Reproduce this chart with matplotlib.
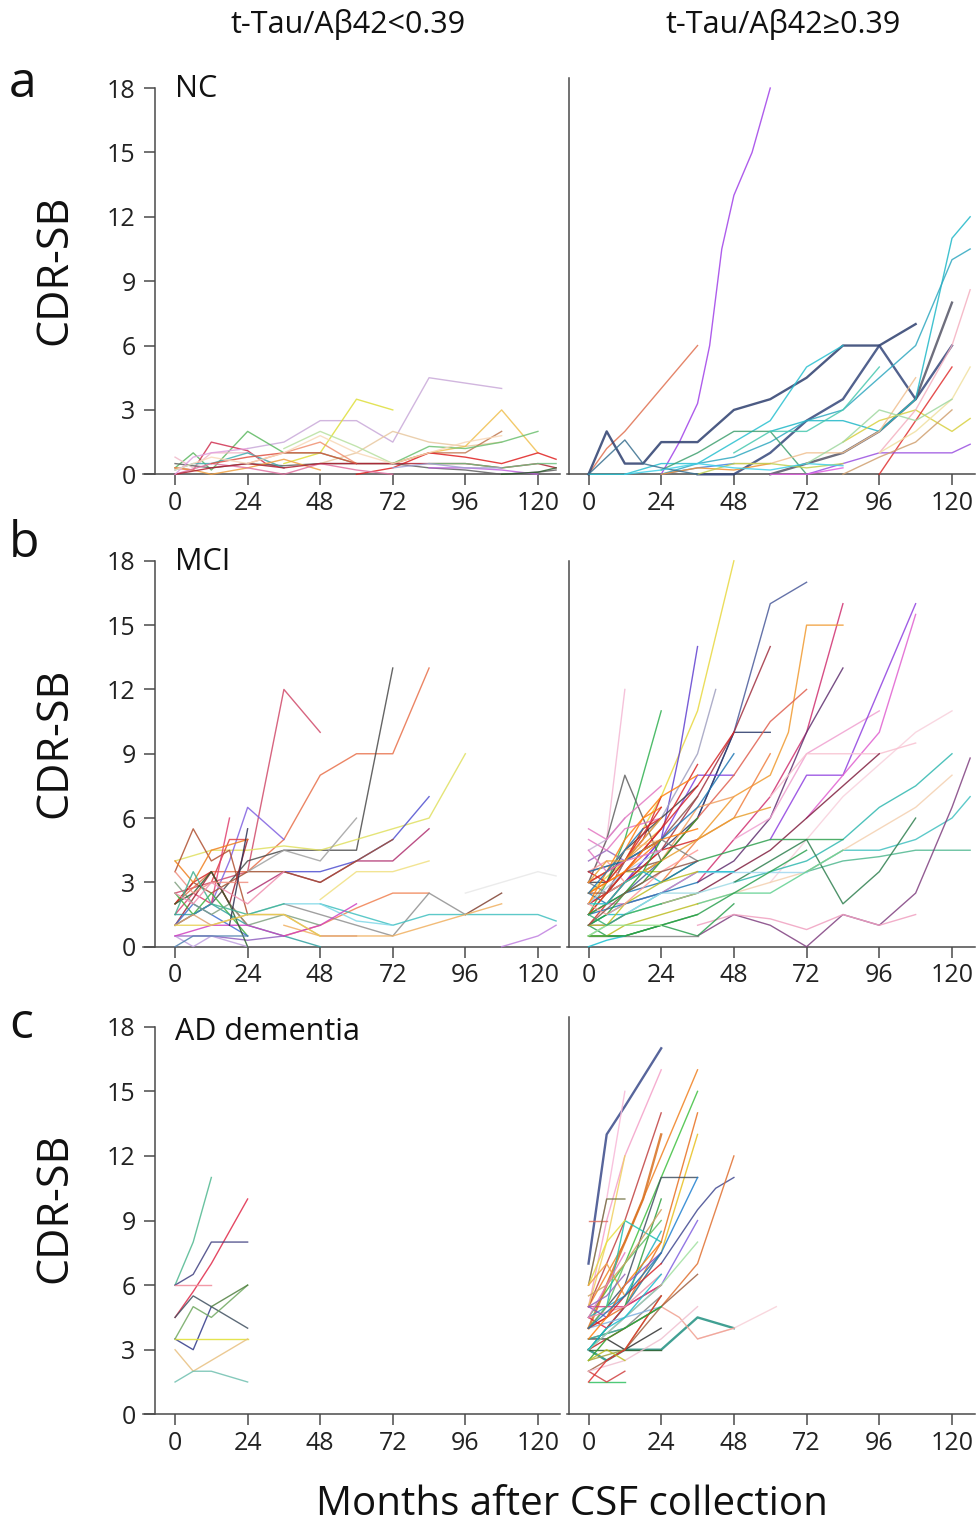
import matplotlib
matplotlib.use('Agg')
import matplotlib.pyplot as plt

plt.rcParams['font.family'] = ['Open Sans', 'DejaVu Sans']

# ---------------- labels ----------------
col_titles = ['t-Tau/Aβ42<0.39', 't-Tau/Aβ42≥0.39']
row_letters = ['a', 'b', 'c']
row_groups = ['NC', 'MCI', 'AD dementia']
y_label = 'CDR-SB'
x_label = 'Months after CSF collection'
x_ticks = [0, 24, 48, 72, 96, 120]
y_ticks = [0, 3, 6, 9, 12, 15, 18]

# ---------------- data: (months, CDR-SB) per subject ----------------
nc_low = [
    ([24, 36, 48, 60, 72, 84, 108], [1.2, 1.5, 2.5, 2.5, 1.5, 4.5, 4.0]),
    ([36, 48, 60, 72], [0.5, 1.0, 3.5, 3.0]),
    ([48, 60, 72, 84, 96, 108], [0.5, 1.0, 2.0, 1.5, 1.3, 1.5]),
    ([72, 84, 96, 108, 120], [0.5, 1.0, 1.3, 3.0, 1.0]),
    ([72, 84, 96, 108], [0.5, 1.0, 1.0, 2.0]),
    ([0, 6, 12, 24, 36, 48, 60], [0.3, 1.0, 0.2, 2.0, 1.0, 1.0, 0.5]),
    ([72, 84, 96, 108, 120], [0.5, 1.3, 1.2, 1.5, 2.0]),
    ([0, 6, 12, 24, 30, 36], [0.3, 0.2, 1.5, 1.1, 0.5, 0.3]),
    ([60, 72, 84, 96, 108, 120, 126], [0.0, 0.3, 1.0, 0.8, 0.5, 1.0, 0.7]),
    ([24, 36, 48, 60, 72], [0.5, 1.0, 1.5, 0.5, 0.5]),
    ([0, 6, 12, 24, 36], [0.8, 0.3, 1.0, 1.0, 0.3]),
    ([36, 48, 60, 72], [1.2, 2.0, 1.3, 0.5]),
    ([0, 12, 24, 36, 48, 60, 72, 84, 96, 108, 120, 126], [0.5, 0.3, 0.5, 0.4, 0.5, 0.5, 0.5, 0.3, 0.2, 0.0, 0.1, 0.2]),
    ([84, 96, 108, 120], [0.3, 0.3, 0.2, 0.0]),
    ([0, 6, 12, 24, 36], [0.2, 0.5, 0.5, 1.0, 0.3]),
    ([0, 6, 12, 24, 36, 48], [0.3, 0.2, 0.0, 0.3, 0.7, 0.2]),
    ([0, 12, 24, 36, 48, 60, 72], [0.0, 0.5, 0.3, 0.0, 0.5, 0.2, 0.0]),
    ([0, 12, 24, 36, 48, 60, 72, 84, 96, 108, 120, 126], [0.0, 0.3, 0.5, 0.3, 0.5, 0.5, 0.5, 0.5, 0.5, 0.3, 0.5, 0.3]),
    ([84, 96, 108, 120, 126], [0.5, 0.5, 0.3, 0.5, 0.5]),
    ([108, 120, 126], [0.0, 0.1, 0.3]),
    ([12, 24, 36, 48, 60], [0.5, 0.8, 1.0, 1.0, 0.5]),
    ([0, 6, 12, 24], [0.0, 0.8, 1.0, 1.2]),
    ([0, 6, 12, 24, 36, 48, 60, 72, 84, 96, 108], [0.2, 0.5, 0.8, 0.5, 1.0, 1.8, 1.0, 0.5, 1.0, 1.5, 1.8]),
    ([72, 84, 96, 108], [0.3, 0.5, 0.3, 0.3]),
]
nc_low_colors = ['#c9a9d9', '#dede3a', '#e8c8a0', '#f0c050', '#c07850', '#5cb860',
                 '#6cc070', '#d03050', '#e02020', '#f09070', '#f0b8c8', '#b8e0a0',
                 '#606060', '#c060e0', '#40b0b0', '#f0a040', '#e070a0', '#b02030',
                 '#70c080', '#306030', '#e05040', '#e0a0e0', '#f8d8b8', '#a0a0d0']

nc_high = [
    ([24, 30, 36, 40, 44, 48, 54, 60], [0.0, 1.5, 3.3, 6.0, 10.5, 13.0, 15.0, 18.0]),
    ([0, 6, 12, 24, 36], [0.0, 1.2, 2.0, 4.0, 6.0]),
    ([0, 6, 12, 18, 24, 36, 48, 60, 72, 84, 96, 108], [0.0, 2.0, 0.5, 0.5, 1.5, 1.5, 3.0, 3.5, 4.5, 6.0, 6.0, 7.0]),
    ([36, 48, 60, 72, 84, 96, 108, 120], [0.0, 0.0, 1.0, 2.5, 3.5, 6.0, 3.5, 6.0]),
    ([60, 72, 84, 96, 108, 120], [0.0, 0.5, 1.0, 2.0, 3.5, 8.0]),
    ([60, 72, 84, 96, 108, 120, 126], [2.0, 2.5, 2.5, 2.0, 3.5, 11.0, 12.0]),
    ([0, 12, 24, 36, 48, 60, 72, 84], [0.0, 0.0, 0.5, 0.5, 1.5, 2.5, 5.0, 6.0]),
    ([24, 36, 48, 60, 72, 84, 96, 108, 120, 126], [0.0, 0.5, 0.8, 1.5, 2.5, 3.0, 4.5, 6.0, 10.0, 10.5]),
    ([24, 36, 48, 60, 72], [0.2, 1.0, 2.0, 2.0, 0.0]),
    ([84, 96, 108, 120, 126], [1.5, 2.5, 3.0, 2.0, 2.6]),
    ([96, 108, 120], [0.0, 2.5, 5.0]),
    ([72, 84, 96, 108, 120, 126], [0.0, 0.5, 1.0, 1.0, 1.0, 1.4]),
    ([96, 108, 120, 126], [1.0, 3.0, 6.0, 8.6]),
    ([48, 60, 72, 84, 96, 108], [0.5, 0.5, 1.0, 1.0, 2.0, 4.5]),
    ([96, 108, 120, 126], [1.0, 2.0, 3.5, 5.0]),
    ([24, 36, 48], [0.0, 0.3, 0.5]),
    ([24, 36, 48, 60], [0.0, 0.3, 0.2, 0.5]),
    ([36, 48, 60, 72, 84], [0.0, 0.5, 0.5, 0.3, 0.5]),
    ([60, 72, 84], [0.0, 0.0, 0.3]),
    ([0, 12, 18, 24, 36], [0.0, 1.6, 0.5, 0.3, 0.0]),
    ([12, 24, 36, 48, 60, 72, 84], [0.0, 0.2, 0.5, 0.3, 0.2, 0.5, 0.4]),
    ([48, 60, 72, 84, 96], [1.0, 2.0, 2.0, 3.0, 5.0]),
    ([72, 84, 96, 108, 120], [0.5, 1.5, 3.0, 2.5, 3.5]),
    ([84, 96, 108, 120], [0.0, 0.8, 1.5, 3.0]),
]
nc_high_colors = ['#a040e8', '#e07050', '#2c3e6e', '#34467a', '#555566', '#20b8c8',
                  '#28c0d0', '#30a8c0', '#40a070', '#d8d040', '#e03030', '#9a50e0',
                  '#f4b0c0', '#f0c090', '#f0e0a0', '#4080e0', '#f09030', '#c0d050',
                  '#e060e0', '#3a7090', '#40d0e8', '#48c8b0', '#a0d8a0', '#d0a070']
nc_high_thick = [2, 3, 4]

mci_low = [
    ([0, 12, 24, 36, 48], [2.5, 3.0, 3.5, 12.0, 10.0]),
    ([0, 12, 24, 36, 48, 60, 72, 84], [2.0, 3.5, 3.5, 5.0, 8.0, 9.0, 9.0, 13.0]),
    ([0, 12, 24, 36, 48, 60, 72], [1.0, 2.0, 4.0, 4.5, 4.5, 4.5, 13.0]),
    ([0, 12, 24, 36, 48, 60, 72, 84, 96], [4.0, 4.5, 4.5, 4.7, 4.5, 5.0, 5.5, 6.0, 9.0]),
    ([6, 12, 18, 24, 36], [1.5, 2.0, 4.0, 6.5, 5.0]),
    ([36, 48, 60, 72, 84], [3.5, 3.5, 4.0, 5.0, 7.0]),
    ([24, 36, 48, 60, 72, 84], [2.5, 3.5, 3.0, 4.0, 4.0, 5.5]),
    ([0, 6, 12, 24, 36, 48, 60, 72], [2.0, 3.0, 2.5, 3.5, 3.5, 3.0, 4.0, 5.0]),
    ([24, 36, 48, 60], [3.5, 4.5, 4.0, 6.0]),
    ([48, 60, 72, 84], [2.2, 3.5, 3.5, 4.0]),
    ([36, 48, 60, 72, 84], [0.5, 1.0, 1.8, 2.5, 2.5]),
    ([36, 48, 60, 72, 84, 96], [2.0, 1.5, 1.0, 0.5, 2.5, 1.5]),
    ([96, 108], [1.5, 2.5]),
    ([96, 108, 120, 126], [2.5, 3.0, 3.5, 3.3]),
    ([48, 60, 72, 84, 96, 108, 120, 126], [2.0, 1.5, 1.0, 1.5, 1.5, 1.5, 1.5, 1.2]),
    ([24, 36, 48, 60, 72], [1.5, 2.0, 2.0, 1.2, 1.0]),
    ([36, 48, 60, 72, 84, 96, 108], [1.0, 0.5, 0.5, 0.5, 1.0, 1.5, 2.0]),
    ([108, 120, 126], [0.0, 0.5, 1.0]),
    ([12, 18, 24], [3.0, 5.0, 5.0]),
    ([0, 6, 12, 18, 24], [3.5, 5.5, 4.0, 4.5, 1.5]),
    ([0, 6, 12, 18, 24], [2.0, 3.0, 3.5, 2.0, 1.0]),
    ([0, 6, 12, 18], [1.5, 2.5, 2.0, 6.0]),
    ([0, 12, 18, 24], [1.0, 3.5, 2.0, 5.0]),
    ([0, 6, 12, 24], [4.0, 3.0, 4.5, 5.0]),
    ([0, 6, 12, 18, 24], [2.5, 1.5, 2.5, 1.5, 0.5]),
    ([0, 6, 12, 24, 36, 48], [1.5, 1.5, 2.0, 1.0, 0.5, 0.0]),
    ([0, 6, 12, 18, 24], [1.0, 2.0, 1.5, 1.0, 0.5]),
    ([0, 12, 24, 36], [0.5, 0.5, 0.3, 0.5]),
    ([0, 6, 12, 24], [0.5, 0.0, 0.5, 0.0]),
    ([0, 6, 12, 18, 24, 36, 48], [3.0, 2.0, 1.5, 2.0, 1.0, 1.5, 1.0]),
    ([0, 6, 12, 24, 36, 48, 60], [1.0, 1.5, 1.0, 1.5, 1.5, 0.5, 0.5]),
    ([0, 12, 24, 36, 48, 60], [0.5, 1.0, 1.0, 0.5, 1.0, 2.0]),
    ([0, 6, 12, 18, 24], [2.0, 2.5, 3.5, 2.0, 0.0]),
    ([0, 6, 12, 24], [3.5, 2.5, 3.0, 3.0]),
    ([0, 6, 12, 24], [0.0, 0.5, 0.5, 0.5]),
    ([18, 24], [1.0, 5.5]),
    ([0, 6, 12, 24, 36], [1.5, 3.5, 2.0, 1.5, 2.0]),
    ([0, 6, 12, 24, 36], [2.5, 2.0, 3.0, 2.0, 3.5]),
    ([0, 12, 24, 36, 48], [1.0, 1.0, 1.5, 1.5, 0.5]),
]
mci_low_colors = ['#d04a6a', '#e8704a', '#4a4a4a', '#e0e060', '#8060e0', '#5050d0',
                  '#b03070', '#a05030', '#a0a0a0', '#f0e080', '#f08050', '#909090',
                  '#804030', '#e8e8e8', '#40c0c0', '#80d8e8', '#f0b060', '#c080e0',
                  '#e04040', '#b05030', '#d62728', '#e04070', '#a02030', '#f08020',
                  '#40b040', '#30a0a0', '#4070d0', '#9060c0', '#c0a0e0', '#80a080',
                  '#e0a070', '#d040c0', '#306030', '#f09080', '#5080b0', '#303050',
                  '#40b090', '#f090b0', '#e8d050']

mci_high = [
    ([0, 12, 24, 36, 48], [2.5, 4.0, 7.0, 11.0, 18.0]),
    ([12, 24, 36, 48, 60, 72], [2.5, 4.0, 6.0, 10.0, 16.0, 17.0]),
    ([36, 48, 60, 72, 84], [3.0, 5.0, 7.0, 10.0, 16.0]),
    ([36, 48, 60, 66, 72, 84], [5.0, 7.0, 8.0, 10.0, 15.0, 15.0]),
    ([24, 36, 48, 60], [4.5, 6.0, 10.0, 10.0]),
    ([0, 12, 24, 36, 48, 60], [2.0, 3.0, 4.5, 7.0, 10.0, 14.0]),
    ([12, 24, 30, 36], [3.0, 5.0, 9.0, 14.0]),
    ([0, 12, 24, 36, 48], [2.0, 3.0, 5.0, 8.0, 8.0]),
    ([0, 12, 24, 36, 42], [3.0, 4.0, 6.0, 9.0, 12.0]),
    ([0, 6, 12], [3.0, 5.0, 12.0]),
    ([0, 6, 12, 18, 24], [1.5, 3.0, 5.0, 8.0, 11.0]),
    ([0, 6, 12, 18, 24], [3.0, 5.0, 8.0, 6.0, 4.0]),
    ([24, 36, 48, 60, 72], [4.0, 6.0, 8.0, 10.5, 12.0]),
    ([36, 48, 60, 72, 84], [3.0, 4.0, 6.0, 10.0, 13.0]),
    ([48, 60, 72, 84, 96], [5.0, 6.0, 9.0, 10.0, 11.0]),
    ([60, 72, 84, 96, 108], [5.0, 8.0, 8.0, 12.0, 16.0]),
    ([72, 84, 96, 108], [6.0, 8.0, 10.0, 15.5]),
    ([60, 72, 84, 96, 108, 120], [3.0, 5.0, 7.0, 8.5, 10.0, 11.0]),
    ([60, 72, 84, 96, 108], [7.0, 9.0, 9.0, 9.0, 9.5]),
    ([24, 36, 48, 60, 72, 84, 96], [2.0, 2.5, 3.5, 4.5, 6.0, 7.5, 9.0]),
    ([48, 60, 72, 84, 96, 108, 120], [3.0, 3.5, 4.0, 5.0, 6.5, 7.5, 9.0]),
    ([72, 84, 96, 108, 120, 126], [3.5, 4.5, 4.5, 5.0, 6.0, 7.0]),
    ([24, 36, 48, 60, 72, 84], [3.0, 4.0, 4.5, 5.0, 5.0, 5.0]),
    ([72, 84, 96, 108, 120, 126], [3.5, 4.0, 4.2, 4.5, 4.5, 4.5]),
    ([48, 60, 72, 84, 96, 108], [3.0, 4.0, 5.0, 2.0, 3.5, 6.0]),
    ([36, 48, 60, 72, 84, 96, 108, 120, 126], [0.5, 1.5, 1.0, 0.0, 1.5, 1.0, 2.5, 6.5, 8.8]),
    ([36, 48, 60, 72, 84, 96, 108], [1.0, 1.5, 1.3, 0.8, 1.5, 1.0, 1.5]),
    ([36, 48, 60, 72, 84, 96, 108, 120], [2.0, 2.5, 3.0, 3.5, 4.5, 5.5, 6.5, 8.0]),
    ([36, 48, 60, 72], [3.5, 3.5, 3.5, 3.5]),
    ([36, 48, 60, 72, 84], [2.0, 2.5, 2.5, 3.5, 4.5]),
    ([24, 36, 48, 60], [3.0, 5.0, 6.0, 9.0]),
    ([0, 12, 24, 36, 48], [2.0, 3.0, 4.0, 6.5, 7.0]),
    ([0, 6, 12, 24, 36, 48], [1.0, 0.5, 0.5, 1.0, 0.5, 2.0]),
    ([0, 12, 24, 36], [0.5, 0.5, 0.5, 0.5]),
    ([0, 6, 12, 18, 24], [2.0, 2.5, 4.0, 5.0, 7.0]),
    ([0, 6, 12, 18, 24], [3.0, 3.5, 4.5, 6.0, 6.5]),
    ([0, 6, 12, 24], [2.0, 3.0, 4.0, 5.5]),
    ([0, 6, 12, 24, 36], [1.5, 2.0, 3.0, 4.0, 6.0]),
    ([0, 6, 12, 24], [1.0, 1.5, 2.0, 2.5]),
    ([0, 6, 12, 24, 36], [2.5, 2.0, 2.5, 3.0, 4.0]),
    ([0, 6, 12, 24], [4.0, 4.5, 4.0, 5.0]),
    ([0, 12, 24, 36], [3.5, 4.0, 5.0, 7.0]),
    ([0, 6, 12, 24], [5.0, 4.5, 5.5, 6.0]),
    ([0, 6, 12, 24, 36], [3.0, 2.5, 4.0, 5.0, 4.0]),
    ([0, 6, 12, 24], [1.5, 2.5, 3.5, 3.5]),
    ([0, 6, 12, 24, 36], [1.0, 2.0, 3.0, 4.5, 5.0]),
    ([0, 6, 12, 24], [3.5, 4.0, 3.0, 4.0]),
    ([0, 6, 12, 24, 36], [0.5, 1.0, 1.5, 2.0, 2.5]),
    ([0, 12, 24], [2.0, 3.5, 4.5]),
    ([0, 6, 12], [4.5, 5.0, 6.0]),
    ([0, 12, 24, 36], [2.5, 3.5, 5.0, 5.5]),
    ([0, 6, 12, 24, 36], [3.0, 3.0, 4.5, 6.0, 7.5]),
    ([0, 6, 12, 24, 36, 48], [1.0, 1.5, 1.5, 2.5, 3.5, 3.5]),
    ([0, 6, 12, 24, 36], [1.5, 2.0, 2.0, 2.5, 3.5]),
    ([6, 12, 24, 36], [2.5, 3.5, 5.5, 8.5]),
    ([0, 12, 24, 36], [1.5, 2.0, 2.5, 3.0]),
    ([0, 6, 12, 24], [2.5, 2.5, 3.5, 4.0]),
    ([0, 12, 24, 36, 48], [0.5, 1.5, 2.5, 2.5, 3.0]),
    ([0, 12, 24, 36], [0.5, 0.5, 1.0, 1.5]),
    ([0, 6, 12, 24], [3.0, 3.5, 4.5, 5.0]),
    ([0, 6, 12], [1.0, 1.0, 1.5]),
    ([0, 12, 24], [3.0, 4.0, 6.5]),
    ([0, 6, 12, 24, 36], [0.5, 0.5, 1.0, 1.5, 2.0]),
    ([0, 6, 12], [0.0, 0.3, 0.5]),
    ([0, 6, 12, 18, 24], [1.0, 1.5, 2.5, 3.5, 5.0]),
    ([12, 24, 36, 48, 60], [3.0, 4.0, 5.0, 6.0, 6.5]),
    ([0, 6, 12, 24, 36], [2.0, 3.5, 5.0, 7.0, 8.0]),
    ([0, 6, 12, 24, 36, 48], [1.5, 2.5, 3.5, 5.5, 7.5, 10.0]),
    ([0, 12, 24, 36, 48], [3.5, 4.0, 5.0, 6.5, 9.0]),
    ([0, 12, 24, 36, 48, 60, 72], [0.5, 0.5, 1.0, 1.5, 2.5, 3.5, 4.5]),
    ([0, 6, 12, 24], [5.5, 5.0, 6.0, 7.5]),
    ([0, 6, 12, 18, 24], [2.5, 3.0, 3.5, 4.5, 5.0]),
    ([0, 6, 12, 18, 24], [1.5, 2.0, 2.5, 3.0, 4.0]),
    ([0, 6, 12, 18, 24], [3.5, 3.0, 4.0, 5.5, 6.0]),
    ([0, 6, 12, 18, 24], [2.0, 2.0, 3.0, 3.5, 3.0]),
    ([0, 6, 12, 24, 36], [1.0, 1.0, 2.0, 3.0, 3.5]),
    ([0, 6, 12, 24], [4.5, 3.5, 4.0, 4.5]),
    ([0, 6, 12, 18], [2.5, 3.5, 4.5, 5.5]),
    ([0, 6, 12, 24], [0.5, 1.0, 1.0, 1.0]),
    ([0, 6, 12, 24, 36], [2.0, 1.5, 2.0, 3.5, 4.5]),
    ([0, 12, 24, 36], [1.0, 2.5, 3.5, 4.0]),
    ([0, 6, 12, 24], [3.0, 4.0, 4.0, 6.0]),
    ([0, 6, 12, 24], [1.5, 1.0, 1.5, 2.0]),
]
mci_high_colors = ['#e8d840', '#4a5a9a', '#d03070', '#f09a30', '#2a3a6a', '#a03040',
                   '#6040d0', '#8040e0', '#a0a0c0', '#f4b8d4', '#30b050', '#606060',
                   '#e06050', '#603070', '#f0a0d0', '#9040e0', '#e060d0', '#f8d0dc',
                   '#f8c0d0', '#802040', '#30b8b0', '#40c0c0', '#30a050', '#50b890',
                   '#308050', '#804080', '#f0a0c0', '#f4d0b0', '#a0d8f0', '#60d090',
                   '#f08040', '#f0a060', '#2ca050', '#808080', '#d62728', '#ff7f0e',
                   '#e8a030', '#2ca02c', '#17becf', '#1f77b4', '#9467bd', '#8c564b',
                   '#e377c2', '#7f7f7f', '#bcbd22', '#d62728', '#ff9896', '#98df8a',
                   '#aec7e8', '#c5b0d5', '#ff7f0e', '#404040', '#17becf', '#e377c2',
                   '#d62728', '#1f77b4', '#8c564b', '#9edae5', '#2ca02c', '#ffbb78',
                   '#9467bd', '#d62728', '#bcbd22', '#17becf', '#2ca02c', '#e8a030',
                   '#ff7f0e', '#d62728', '#1f77b4', '#2ca050', '#e377c2', '#ff7f0e',
                   '#2ca02c', '#d62728', '#17becf', '#bcbd22', '#e377c2', '#1f77b4',
                   '#98df8a', '#ff9896', '#8c564b', '#e8a030', '#30b070']

ad_low = [
    ([0, 6, 12], [6.0, 8.0, 11.0]),
    ([0, 6, 12, 18, 24], [4.5, 5.7, 7.0, 8.5, 10.0]),
    ([0, 6, 12, 24], [6.0, 6.5, 8.0, 8.0]),
    ([0, 12], [6.0, 6.0]),
    ([0, 6, 12, 18, 24], [4.5, 5.5, 5.0, 4.5, 4.0]),
    ([0, 6, 12], [3.5, 3.0, 5.0]),
    ([0, 6, 12, 24], [3.5, 5.0, 4.5, 6.0]),
    ([12, 24], [5.0, 6.0]),
    ([0, 12, 24], [3.5, 3.5, 3.5]),
    ([0, 6, 24], [3.0, 2.0, 3.5]),
    ([0, 6, 12, 24], [1.5, 2.0, 2.0, 1.5]),
]
ad_low_colors = ['#50b890', '#e02848', '#404080', '#f08898', '#405060', '#303888',
                 '#70a860', '#508040', '#e0e030', '#e8c080', '#70c0b0']

ad_high = [
    ([0, 6, 12, 24], [7.0, 13.0, 14.3, 17.0]),
    ([0, 6, 12, 24], [5.0, 9.0, 12.0, 16.0]),
    ([0, 6, 12], [6.0, 10.0, 15.0]),
    ([0, 12, 24, 36], [5.0, 8.0, 12.0, 16.0]),
    ([0, 12, 24, 36], [4.5, 7.0, 11.0, 15.0]),
    ([0, 12, 24, 36], [4.0, 5.0, 8.0, 14.0]),
    ([12, 24, 36], [5.0, 7.5, 13.0]),
    ([0, 6, 12, 24], [5.0, 7.0, 9.0, 14.0]),
    ([0, 12, 18, 24], [4.0, 8.0, 10.0, 13.0]),
    ([0, 12, 24, 36], [4.0, 6.0, 11.0, 11.0]),
    ([0, 12, 24, 36], [3.0, 5.0, 7.5, 11.0]),
    ([24, 36, 42, 48], [7.0, 9.5, 10.5, 11.0]),
    ([12, 24, 36, 48], [4.0, 5.0, 7.0, 12.0]),
    ([0, 12, 24, 36], [3.0, 4.5, 6.0, 9.0]),
    ([0, 6, 12, 24, 36, 48], [3.0, 2.5, 3.0, 3.0, 4.5, 4.0]),
    ([36, 48, 62], [3.5, 4.0, 5.0]),
    ([24, 30, 36, 48], [5.0, 4.5, 3.5, 4.0]),
    ([0, 12, 24], [3.0, 3.0, 3.0]),
    ([0, 6, 12], [1.5, 1.5, 1.5]),
    ([0, 6, 12], [2.0, 1.5, 2.0]),
    ([0, 6], [9.0, 9.0]),
    ([0, 6, 12], [5.0, 8.0, 12.0]),
    ([0, 6, 12], [6.0, 10.0, 10.0]),
    ([0, 12, 24], [3.0, 5.0, 10.0]),
    ([6, 12, 18, 24], [5.0, 9.0, 8.5, 8.0]),
    ([0, 12, 24], [4.5, 5.5, 8.5]),
    ([0, 6, 12, 18, 24], [4.5, 4.0, 5.0, 5.5, 6.0]),
    ([0, 12, 24], [5.0, 5.0, 6.0]),
    ([0, 12, 24, 36], [2.0, 3.0, 5.0, 6.5]),
    ([0, 12, 24], [3.5, 4.0, 5.5]),
    ([0, 12, 24], [4.0, 4.5, 5.0]),
    ([0, 6, 12, 24], [4.0, 5.0, 7.0, 9.0]),
    ([0, 12, 24], [4.5, 5.0, 6.5]),
    ([0, 6, 12], [6.0, 8.0, 9.0]),
    ([0, 6, 12], [6.0, 7.0, 5.5]),
    ([0, 6, 12, 24], [3.5, 3.5, 3.0, 4.0]),
    ([0, 6, 12], [3.0, 3.5, 4.0]),
    ([0, 12, 24, 36], [2.0, 2.5, 3.5, 5.0]),
    ([0, 6, 12, 24], [5.0, 4.5, 6.0, 7.5]),
    ([0, 12, 24], [3.5, 4.0, 5.0]),
    ([0, 12, 24], [2.5, 3.0, 5.5]),
    ([0, 12, 24, 36], [3.0, 4.5, 6.0, 8.0]),
    ([0, 6, 12, 24], [1.5, 2.5, 3.0, 5.5]),
    ([0, 6, 12, 24], [5.5, 6.0, 7.0, 9.5]),
    ([0, 6, 12, 24], [4.0, 4.5, 5.5, 7.0]),
    ([0, 6, 12, 24], [3.0, 4.0, 4.5, 6.5]),
    ([0, 6, 12, 24], [2.5, 3.5, 4.0, 5.0]),
    ([0, 6, 12], [4.5, 6.0, 7.5]),
    ([0, 6, 12, 24], [3.5, 4.5, 6.0, 8.0]),
    ([0, 6, 12], [5.0, 5.5, 6.5]),
    ([0, 12, 24], [4.0, 5.5, 7.5]),
    ([0, 6, 12], [2.5, 3.0, 2.5]),
]
ad_high_colors = ['#3a4a8a', '#f4a0c8', '#f8b8d8', '#f08020', '#40c040', '#e87020',
                  '#e8c020', '#c04040', '#d87020', '#405060', '#2080d0', '#404890',
                  '#e07030', '#8060e0', '#209080', '#f8d0d8', '#f0a090', '#306030',
                  '#30c060', '#d04040', '#e07060', '#f0d060', '#707040', '#30a040',
                  '#20c0b0', '#20b0c0', '#e02040', '#d04080', '#a06040', '#808080',
                  '#80b0e0', '#60c060', '#e890a8', '#e8e040', '#f0a040', '#303030',
                  '#c02020', '#f0c0d0', '#9050c0', '#40b0a0', '#a0a040', '#a0e0a0',
                  '#e03030', '#d0a060', '#d62728', '#17becf', '#2ca02c', '#e377c2',
                  '#ff7f0e', '#9467bd', '#1f77b4', '#bcbd22']
ad_high_thick = [0, 8, 14]

panels = [
    [(nc_low, nc_low_colors, []), (nc_high, nc_high_colors, nc_high_thick)],
    [(mci_low, mci_low_colors, []), (mci_high, mci_high_colors, [])],
    [(ad_low, ad_low_colors, []), (ad_high, ad_high_colors, ad_high_thick)],
]

# ---------------- layout ----------------
W, H = 977, 1527
fig = plt.figure(figsize=(W / 100, H / 100), dpi=100)

col_px = [(143, 560), (566.7, 975)]
col_xlim = [(-10.6, 127.3), (-7.2, 127.6)]
row_px = [(77.3, 474.3), (550.1, 946.7), (1016.0, 1414.3)]
right_spine_top = [18.45, 18.0, 18.45]
axis_col = '#4a4a4a'

for r in range(3):
    y0, y1 = row_px[r]
    for c in range(2):
        x0, x1 = col_px[c]
        ax = fig.add_axes([x0 / W, 1 - y1 / H, (x1 - x0) / W, (y1 - y0) / H])
        series, colors, thick = panels[r][c]
        for i, ((m, s), col) in enumerate(zip(series, colors)):
            ax.plot(m, s, color=col, lw=1.7 if i in thick else 1.0,
                    alpha=0.85, clip_on=False, solid_joinstyle='round', zorder=3)
        ax.set_xlim(*col_xlim[c])
        ax.set_ylim(0, 18.5)
        for sp in ['top', 'right']:
            ax.spines[sp].set_visible(False)
        ax.spines['left'].set_position(('data', -6.6))
        ax.spines['left'].set_bounds(0, 18 if c == 0 else right_spine_top[r])
        for sp in ['left', 'bottom']:
            ax.spines[sp].set_color(axis_col)
            ax.spines[sp].set_linewidth(1.1)
        ax.set_xticks(x_ticks)
        if c == 0:
            ax.set_yticks(y_ticks)
        else:
            ax.set_yticks([])
        ax.tick_params(direction='out', length=8, width=1.1, color=axis_col,
                       labelsize=18, labelcolor='#222222')
        ax.tick_params(axis='x', pad=4)
        ax.tick_params(axis='y', pad=6)
        ax.patch.set_alpha(0)

    # row annotations
    fig.text(9 / W, 1 - [97, 557, 1038][r] / H, row_letters[r], fontsize=36,
             ha='left', va='baseline', color='#111111')
    fig.text(175 / W, 1 - [97, 570, 1040][r] / H, row_groups[r], fontsize=22,
             ha='left', va='baseline', color='#111111')
    fig.text(55 / W, 1 - [270, 743, 1208][r] / H, y_label, fontsize=31,
             rotation=90, ha='center', va='center', color='#111111')

fig.text(348 / W, 1 - 25 / H, col_titles[0], fontsize=22, ha='center', va='center', color='#111111')
fig.text(783 / W, 1 - 25 / H, col_titles[1], fontsize=22, ha='center', va='center', color='#111111')
fig.text(572 / W, 1 - 1505 / H, x_label, fontsize=29, ha='center', va='center', color='#111111')

fig.savefig('out.png', dpi=100)
